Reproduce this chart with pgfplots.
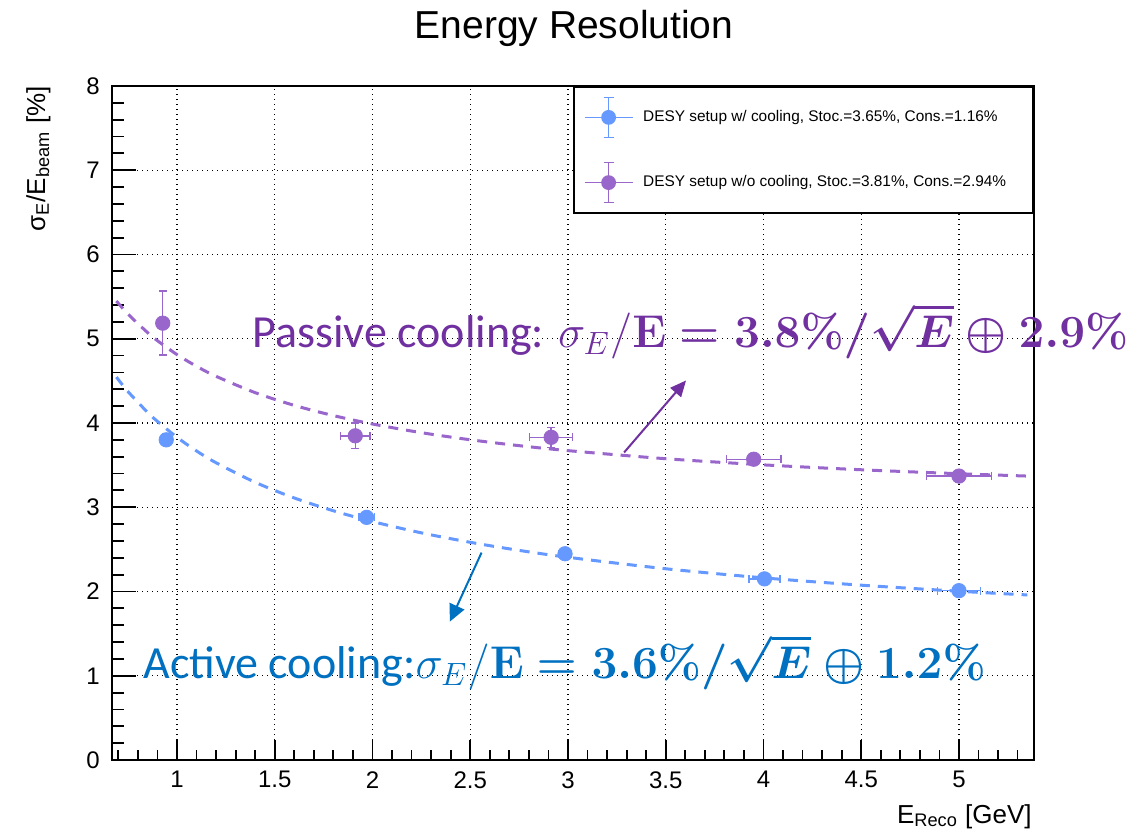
\documentclass[border=0pt]{standalone}
\usepackage{fix-cm}
\usepackage{amsmath}
\usepackage{pgfplots}
\pgfplotsset{compat=1.18}
\usepackage[no-math]{fontspec}
\setmainfont{Liberation Sans}
\newfontfamily\calibri{Carlito}
\usetikzlibrary{arrows.meta}
\definecolor{cblue}{RGB}{102,153,255}
\definecolor{cpurple}{RGB}{153,102,204}
\definecolor{cbtext}{RGB}{0,112,192}
\definecolor{cptext}{RGB}{112,48,160}
\begin{document}
\begin{tikzpicture}
\path[use as bounding box] (0,0) rectangle (564pt,414.5pt);
\begin{axis}[
  at={(56pt,34.5pt)}, anchor=south west,
  scale only axis, width=461pt, height=337pt,
  xmin=0.6675, xmax=5.384, ymin=0, ymax=8,
  xtick={1,1.5,2,2.5,3,3.5,4,4.5,5},
  ytick={0,1,2,3,4,5,6,7,8},
  minor xtick={0.7,0.8,0.9,1.1,1.2,1.3,1.4,1.6,1.7,1.8,1.9,2.1,2.2,2.3,2.4,2.6,2.7,2.8,2.9,3.1,3.2,3.3,3.4,3.6,3.7,3.8,3.9,4.1,4.2,4.3,4.4,4.6,4.7,4.8,4.9,5.1,5.2,5.3},
  minor ytick={0.2,0.4,0.6,0.8,1.2,1.4,1.6,1.8,2.2,2.4,2.6,2.8,3.2,3.4,3.6,3.8,4.2,4.4,4.6,4.8,5.2,5.4,5.6,5.8,6.2,6.4,6.6,6.8,7.2,7.4,7.6,7.8},
  tick align=inside, tick pos=left,
  xtick style={/pgfplots/major tick length=10pt,/pgfplots/minor tick length=5pt},
  ytick style={/pgfplots/major tick length=12pt,/pgfplots/minor tick length=6pt},
  every tick/.style={black, line width=0.9pt},
  axis line style={black, line width=0.8pt},
  grid=major,
  major grid style={black, line width=0.65pt, dash pattern=on 0.65pt off 1.85pt},
  /pgf/number format/assume math mode=true,
  ticklabel style={font=\fontsize{12}{14}\selectfont},
  yticklabel style={inner sep=0pt, xshift=-6pt},
  xticklabel style={inner sep=0pt, yshift=-5.5pt},
  clip=false,
  legend style={at={(1,1)}, anchor=north east, draw=black, line width=0.8pt, fill=white,
    inner sep=5pt, row sep=12pt, column sep=5pt,
    font=\fontsize{7.7}{9}\selectfont, nodes={inner sep=0pt}},
  legend cell align=left,
]
% fit curves
\addplot[cblue, line width=1.5pt, dash pattern=on 5pt off 4pt, forget plot, smooth] coordinates {
(0.69,4.545) (0.75,4.371) (0.85,4.125) (0.9,4.019) (1.0,3.830) (1.1,3.668) (1.2,3.528) (1.4,3.296) (1.6,3.110) (1.8,2.958) (2.0,2.830) (2.25,2.696) (2.5,2.584) (2.75,2.488) (3.0,2.406) (3.5,2.270) (4.0,2.162) (4.5,2.075) (5.0,2.003) (5.35,1.959)};
\addplot[cpurple, line width=1.5pt, dash pattern=on 5pt off 4pt, forget plot, smooth] coordinates {
(0.69,5.448) (0.75,5.291) (0.85,5.072) (0.9,4.977) (1.0,4.812) (1.1,4.673) (1.2,4.554) (1.4,4.360) (1.6,4.209) (1.8,4.088) (2.0,3.988) (2.25,3.885) (2.5,3.801) (2.75,3.731) (3.0,3.672) (3.5,3.576) (4.0,3.503) (4.5,3.445) (5.0,3.398) (5.35,3.370)};
% data
\addplot[only marks, mark=*, mark size=3.6pt, color=cblue,
  legend image code/.code={
    \draw[cblue, line width=0.6pt] (0pt,0pt) -- (24pt,0pt);
    \draw[cblue, line width=0.6pt] (12pt,-10pt) -- (12pt,10pt) (9.5pt,-10pt) -- (14.5pt,-10pt) (9.5pt,10pt) -- (14.5pt,10pt);
    \fill[cblue] (12pt,0pt) circle (3.3pt);},
  error bars/.cd, x dir=both, x explicit, y dir=both, y explicit,
  error bar style={line width=0.7pt, cblue},
  error mark options={rotate=90, mark size=2pt, line width=0.7pt, cblue}]
  coordinates {
  (0.945,3.80) +- (0.02,0.07)
  (1.97,2.88) +- (0.04,0.03)
  (2.985,2.448) +- (0.03,0.02)
  (4.005,2.15) +- (0.08,0.02)
  (5.0,2.01) +- (0.11,0.02)
  };
\addlegendentry{\makebox[190pt][l]{DESY setup w/ cooling, Stoc.=3.65\%, Cons.=1.16\%}}
\addplot[only marks, mark=*, mark size=3.6pt, color=cpurple,
  legend image code/.code={
    \draw[cpurple, line width=0.6pt] (0pt,0pt) -- (24pt,0pt);
    \draw[cpurple, line width=0.6pt] (12pt,-10pt) -- (12pt,10pt) (9.5pt,-10pt) -- (14.5pt,-10pt) (9.5pt,10pt) -- (14.5pt,10pt);
    \fill[cpurple] (12pt,0pt) circle (3.3pt);},
  error bars/.cd, x dir=both, x explicit, y dir=both, y explicit,
  error bar style={line width=0.7pt, cpurple},
  error mark options={rotate=90, mark size=2pt, line width=0.7pt, cpurple}]
  coordinates {
  (0.927,5.185) +- (0.02,0.38)
  (1.912,3.848) +- (0.076,0.15)
  (2.914,3.83) +- (0.11,0.12)
  (3.95,3.57) +- (0.14,0.05)
  (5.0,3.37) +- (0.167,0.05)
  };
\addlegendentry{\makebox[190pt][l]{DESY setup w/o cooling, Stoc.=3.81\%, Cons.=2.94\%}}
% annotations
\node[anchor=base west, inner sep=0pt, text=cptext, font=\fontsize{23}{27}\selectfont]
  at (axis cs:1.384,4.9) {\calibri Passive cooling: $\sigma_E/\mathbf{E}\boldsymbol{=3.8\%/\sqrt{E}\oplus 2.9\%}$};
\node[anchor=base west, inner sep=0pt, text=cbtext, font=\fontsize{23}{27}\selectfont]
  at (axis cs:0.826,0.97) {\calibri Active cooling:$\sigma_E/\mathbf{E}\boldsymbol{=3.6\%/\sqrt{E}\oplus 1.2\%}$};
\draw[cptext, line width=1pt, -{Triangle[length=8pt,width=7pt]}] (axis cs:3.287,3.65) -- (axis cs:3.604,4.505);
\draw[cbtext, line width=1pt, -{Triangle[length=8.5pt,width=8pt]}] (axis cs:2.558,2.462) -- (axis cs:2.396,1.643);
\end{axis}
\node[anchor=base, inner sep=0pt, font=\fontsize{19.5}{23}\selectfont] at (287pt,395pt) {Energy Resolution};
\node[rotate=90, anchor=base east, inner sep=0pt, font=\fontsize{13}{15}\selectfont] at (22.5pt,371.5pt) {σ\textsubscript{E}/E\textsubscript{beam} [\%]};
\node[anchor=base east, inner sep=0pt, font=\fontsize{13}{15}\selectfont] at (516pt,3pt) {E\textsubscript{Reco} [GeV]};
\end{tikzpicture}
\end{document}
